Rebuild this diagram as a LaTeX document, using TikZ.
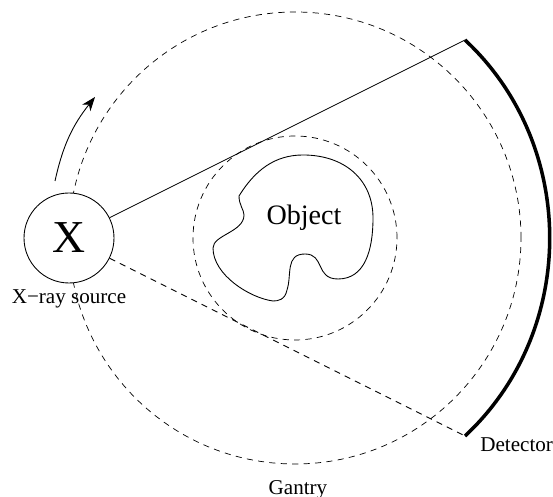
\documentclass[tikz,border=0pt]{standalone}
\usepackage{fontspec}
\setmainfont{Liberation Serif}
\usetikzlibrary{arrows.meta, positioning}

\begin{document}
\begin{tikzpicture}[
  every node/.style={font=\fontsize{12}{14}\selectfont, inner sep=0pt},
  ring/.style={circle, draw, thin, dash pattern=on 3.5pt off 3pt, minimum size=#1},
  source/.style={circle, draw, fill=white, line width=0.5pt, minimum size=1.8cm,
                 font=\fontsize{26}{30}\selectfont},
  ray/.style={line width=0.5pt},
  dray/.style={line width=0.5pt, dash pattern=on 3.5pt off 3pt},
  arr/.style={-{Stealth[length=8pt, width=6pt, inset=2.5pt]}, line width=0.5pt},
  node distance=1.3cm
]
\useasboundingbox (0,0) rectangle (11.06,9.94);
\node[ring=9.04cm] (gantry) at (5.90,5.18) {};
\node[ring=4.08cm] (bore) at (5.90,5.18) {};
\node[source] (src) at (1.38,5.18) {X};
\node[below=0.12cm of src] (srclabel) {X−ray source};
\node[below=0.32cm of gantry, xshift=0.06cm] (gantrylabel) {Gantry};

\coordinate (dettop) at (9.30,9.14);
\coordinate (detbot) at (9.30,1.22);
\coordinate (rotstart) at (1.10,6.32);
\coordinate (rotend) at (1.90,8.00);
\node[below right=0.02cm and 0.3cm of detbot] (detlabel) {Detector};

\draw[line width=2pt] (dettop) to[bend left=47] (detbot);
\draw[ray] (src) -- (dettop);
\draw[dray] (src) -- (detbot);
\draw[arr] (rotstart) to[bend left=13] (rotend);

\draw[line width=0.5pt] (4.78,6.02)
  .. controls (5.10,6.54) and (5.50,6.84) .. (6.06,6.84)
  .. controls (6.90,6.84) and (7.46,6.34) .. (7.46,5.58)
  .. controls (7.46,4.94) and (7.30,4.36) .. (6.76,4.36)
  .. controls (6.30,4.36) and (6.50,4.86) .. (6.10,4.86)
  .. controls (5.70,4.86) and (5.84,4.44) .. (5.74,4.14)
  .. controls (5.70,3.94) and (5.56,3.92) .. (5.46,3.92)
  .. controls (5.00,3.98) and (4.26,4.44) .. (4.26,4.98)
  .. controls (4.26,5.24) and (4.88,5.30) .. (4.88,5.64)
  .. controls (4.88,5.74) and (4.78,5.84) .. (4.78,6.02) -- cycle;
\node[font=\fontsize{16}{18}\selectfont] (object) at (6.08,5.58) {Object};
\end{tikzpicture}
\end{document}
